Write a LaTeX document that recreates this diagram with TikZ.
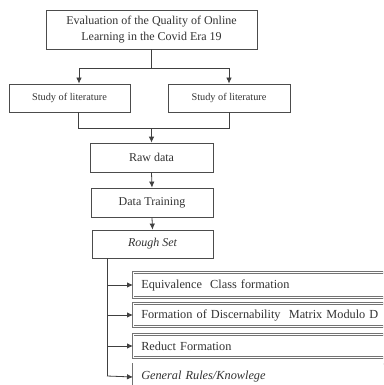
\documentclass[tikz,border=0pt]{standalone}
\usepackage{fontspec}
\setmainfont{Liberation Serif}
\usetikzlibrary{arrows.meta}
\begin{document}
\begin{tikzpicture}[x=1pt,y=-1pt,
  box/.style={draw=black!70,line width=0.8pt,fill=white,inner sep=0pt,align=center,font=\fontsize{12}{16.5}\selectfont,text=black!80},
  sidebox/.style={draw=black!55,line width=0.5pt,double=white,double distance=1.4pt,fill=white,inner sep=0pt,anchor=west,text width=260pt,align=left,font=\fontsize{12.3}{14}\selectfont,text=black!80},
  conn/.style={draw=black!75,line width=0.8pt},
  arr/.style={conn,-{Latex[length=6pt,width=5.5pt]}}]
\useasboundingbox (0,0) rectangle (383,385);
\clip (0,0) rectangle (383,385);
\fill[white] (0,0) rectangle (383,385);
\node[box,minimum width=211pt,minimum height=39pt] (top) at (151.5,29.5) {Evaluation of the Quality of Online\\Learning in the Covid\ Era 19};
\node[box,minimum width=121pt,minimum height=28pt,font=\fontsize{10.3}{12}\selectfont] (sl) at (69.5,98) {Study of literature};
\node[box,minimum width=122pt,minimum height=28pt,font=\fontsize{10.3}{12}\selectfont] (sr) at (229,98) {Study of literature};
\node[box,minimum width=123pt,minimum height=29pt] (raw) at (151.5,157.5) {Raw data};
\node[box,minimum width=122pt,minimum height=29pt] (train) at (152,202.5) {Data Training};
\node[box,minimum width=121pt,minimum height=28pt] (rough) at (152.5,244) {\itshape Rough Set};
\node[sidebox,minimum height=25pt] (e1) at (133,285) {\hspace*{8pt}Equivalence\ \ Class formation};
\node[sidebox,minimum height=23pt] (e2) at (133,315) {\hspace*{8pt}Formation of Discernability\ \ Matrix Modulo D};
\node[sidebox,minimum height=23pt] (e3) at (133,346) {\hspace*{8pt}Reduct Formation};
\node[sidebox,minimum height=26pt] (e4) at (133,377) {\hspace*{8pt}\itshape General Rules/Knowlege};
% top splits
\coordinate (j1) at (151.5,68);
\draw[conn] (top.south) -- (j1);
\draw[arr] (j1) -| ([xshift=9.5pt]sl.north);
\draw[arr] (j1) -| (sr.north);
% merge
\coordinate (j2) at (151.5,128);
\draw[conn] ([xshift=8.5pt]sl.south) |- (j2);
\draw[conn] (sr.south) |- (j2);
\draw[arr] (j2) -- (raw.north);
\draw[arr] (raw.south) -- (train.north);
\draw[arr] (train.south) -- (rough.north);
% branches
\coordinate (rb) at (107,258);
\draw[conn] (rb) -- (107,376);
\draw[arr] (107,285) -- (e1.west);
\draw[arr] (107,315) -- (e2.west);
\draw[arr] (107,346) -- (e3.west);
\draw[arr] (107,376) -- (e4.west);
\end{tikzpicture}
\end{document}
